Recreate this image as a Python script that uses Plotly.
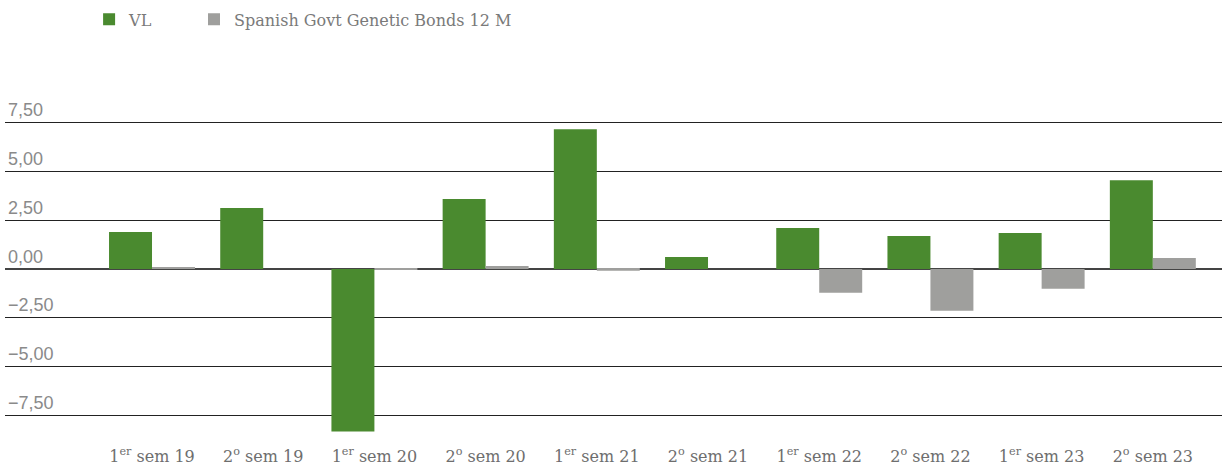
import plotly.graph_objects as go

categories = ["1<sup>er</sup> sem 19", "2<sup>o</sup> sem 19", "1<sup>er</sup> sem 20", "2<sup>o</sup> sem 20",
              "1<sup>er</sup> sem 21", "2<sup>o</sup> sem 21", "1<sup>er</sup> sem 22", "2<sup>o</sup> sem 22",
              "1<sup>er</sup> sem 23", "2<sup>o</sup> sem 23"]
vl_values = [1.89, 3.11, -8.32, 3.57, 7.14, 0.61, 2.09, 1.68, 1.84, 4.54]
bond_values = [0.10, 0.0, -0.05, 0.15, -0.10, 0.0, -1.22, -2.14, -1.02, 0.56]
y_ticks = [-7.5, -5.0, -2.5, 0.0, 2.5, 5.0, 7.5]

GREEN = "#4a8a2f"
GRAY = "#9f9f9d"
SLAB = "Roboto Slab, DejaVu Serif, serif"
LEGEND_FONT = dict(family=SLAB, size=16, color="#7a7a7a")

xs = list(range(len(categories)))
fig = go.Figure()
fig.add_trace(go.Bar(name="VL", x=xs, y=vl_values, legend="legend",
                     marker=dict(color=GREEN, line=dict(width=0))))
fig.add_trace(go.Bar(name="Spanish Govt Genetic Bonds 12 M", x=xs, y=bond_values, legend="legend2",
                     marker=dict(color=GRAY, line=dict(width=0))))

fig.update_layout(
    width=1224, height=468,
    margin=dict(l=5, r=2, t=93, b=33, autoexpand=False),
    paper_bgcolor="white", plot_bgcolor="white",
    barmode="group", bargap=0.227, bargroupgap=0,
    separators=",.",
    showlegend=True,
    legend=dict(orientation="h", x=0.0691, xanchor="left", y=1.215, yanchor="middle",
                font=LEGEND_FONT, itemwidth=30, bgcolor="rgba(0,0,0,0)"),
    legend2=dict(orientation="h", x=0.1553, xanchor="left", y=1.215, yanchor="middle",
                 font=LEGEND_FONT, itemwidth=30, bgcolor="rgba(0,0,0,0)"),
    xaxis=dict(tickmode="array", tickvals=xs, ticktext=categories, automargin=False,
               range=[-1.322, 9.622], showgrid=False, zeroline=False, showline=False,
               ticks="", ticklabelstandoff=10,
               tickfont=dict(family=SLAB, size=16, color="#6e6e6e")),
    yaxis=dict(range=[-8.5, 9.0], tickmode="array", tickvals=y_ticks, tickformat=".2f",
               automargin=False,
               ticklabelposition="inside top", showgrid=True, gridcolor="#222222", gridwidth=1,
               zeroline=True, zerolinecolor="#444444", zerolinewidth=2, showline=False,
               tickfont=dict(family="Liberation Sans, Arial, sans-serif", size=18, color="#8a8a8a")),
)

fig.write_html("out.html", config={"displayModeBar": False},
               post_script="document.body.style.margin='0';")
